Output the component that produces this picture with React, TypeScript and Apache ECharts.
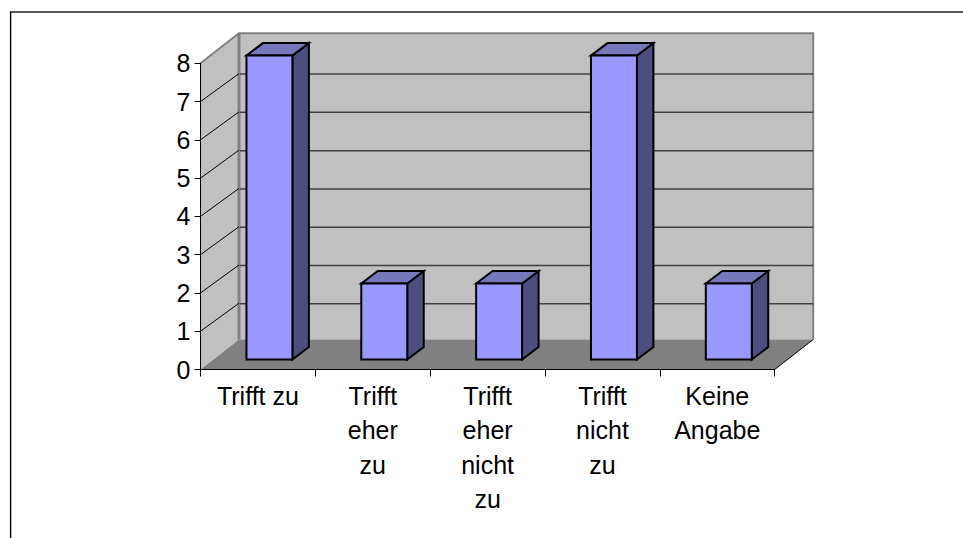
import React, { useEffect, useRef } from "react";
import * as echarts from "echarts";

const categories = ["Trifft zu", "Trifft\neher\nzu", "Trifft\neher\nnicht\nzu", "Trifft\nnicht\nzu", "Keine\nAngabe"];
const values = [8, 2, 2, 8, 2];
const yTicks = [0, 1, 2, 3, 4, 5, 6, 7, 8];

const DEPTH_X = 38.5;
const DEPTH_Y = 30;
const GRID_DEPTH_Y = 28;
const BAR_WIDTH_RATIO = 0.4;

function renderWalls(_params: any, api: any) {
  const band = api.size([1, 0])[0];
  const [c0, y0] = api.coord([0, 0]);
  const [c4] = api.coord([4, 0]);
  const x0 = c0 - band / 2;
  const x1 = c4 + band / 2;
  const [, y8] = api.coord([0, 8]);
  const bx0 = x0 + DEPTH_X;
  const bx1 = x1 + DEPTH_X;
  const by0 = y0 - DEPTH_Y;
  const by8 = y8 - DEPTH_Y;
  const children: any[] = [
    { type: "polygon", shape: { points: [[x0, y8], [bx0, by8], [bx0, by0], [x0, y0]] }, style: { fill: "#c0c0c0" } },
    { type: "rect", shape: { x: bx0, y: by8, width: bx1 - bx0, height: by0 - by8 }, style: { fill: "#c0c0c0" } },
    { type: "polygon", shape: { points: [[x0, y0], [bx0, by0], [bx1, by0], [x1, y0]] }, style: { fill: "#808080" } },
    { type: "polyline", shape: { points: [[x0, y8], [bx0, by8], [bx1, by8], [bx1, by0]] }, style: { fill: "none", stroke: "#808080", lineWidth: 2 } },
    { type: "line", shape: { x1: bx0, y1: by8, x2: bx0, y2: by0 }, style: { stroke: "#808080", lineWidth: 3 } },
    { type: "line", shape: { x1: x1, y1: y0, x2: bx1, y2: by0 }, style: { stroke: "#000", lineWidth: 1 } },
  ];
  yTicks.slice(1, -1).forEach((t) => {
    const [, y] = api.coord([0, t]);
    children.push({ type: "line", shape: { x1: x0, y1: y, x2: bx0, y2: y - GRID_DEPTH_Y }, style: { stroke: "#000", lineWidth: 1 } });
    children.push({ type: "line", shape: { x1: bx0 + 1, y1: y - GRID_DEPTH_Y + 0.5, x2: bx1, y2: y - GRID_DEPTH_Y + 0.5 }, style: { stroke: "#404040", lineWidth: 1.5 } });
  });
  return { type: "group", children };
}

function renderBar(_params: any, api: any) {
  const [cx, y0] = api.coord([api.value(0), 0]);
  const [, yv] = api.coord([api.value(0), api.value(1)]);
  const w = api.size([1, 0])[0] * BAR_WIDTH_RATIO;
  const l = cx + 11.5 - w / 2;
  const r = l + w;
  const b = y0 - 10;
  const t = b - (y0 - yv) * 0.9925;
  const dx = 16.5;
  const dy = 12.5;
  const stroke = { stroke: "#000", lineWidth: 2, lineJoin: "miter" };
  return {
    type: "group",
    children: [
      { type: "polygon", shape: { points: [[r, t], [r + dx, t - dy], [r + dx, b - dy], [r, b]] }, style: { fill: "#4d4d80", ...stroke } },
      { type: "polygon", shape: { points: [[l, t], [l + dx, t - dy], [r + dx, t - dy], [r, t]] }, style: { fill: "#7777bb", ...stroke } },
      { type: "rect", shape: { x: l, y: t, width: w, height: b - t }, style: { fill: "#9999ff", ...stroke } },
    ],
  };
}

export default function App() {
  const ref = useRef<HTMLDivElement>(null);
  useEffect(() => {
    const chart = echarts.init(ref.current!, null, { renderer: "svg" });
    chart.setOption({
      animation: false,
      backgroundColor: "#ffffff",
      textStyle: { fontFamily: "Liberation Sans" },
      grid: { left: 200.5, top: 63.3, width: 574.2, height: 306.2 },
      xAxis: {
        type: "category",
        data: categories,
        z: 5,
        axisLine: { lineStyle: { color: "#000", width: 1 } },
        axisTick: { show: true, alignWithLabel: false, length: 7, lineStyle: { color: "#000" } },
        axisLabel: { interval: 0, fontSize: 25, color: "#000", lineHeight: 34.5, margin: 9, verticalAlign: "top" },
      },
      yAxis: {
        type: "value",
        min: 0,
        max: 8,
        interval: 1,
        z: 5,
        splitLine: { show: false },
        axisLine: { show: true, lineStyle: { color: "#000", width: 1 } },
        axisTick: { show: true, length: 6, lineStyle: { color: "#000" } },
        axisLabel: { fontSize: 25, color: "#000", margin: 10, padding: [0, 0, 3, 0] },
      },
      graphic: [
        { type: "line", shape: { x1: 10.6, y1: 11.5, x2: 10.6, y2: 538 }, style: { stroke: "#000", lineWidth: 1.4 } },
        { type: "line", shape: { x1: 10, y1: 12, x2: 963, y2: 12 }, style: { stroke: "#222", lineWidth: 1.5 } },
      ],
      series: [
        { type: "custom", z: 1, renderItem: renderWalls, data: [[0, 0]], silent: true },
        {
          type: "custom",
          z: 2,
          renderItem: renderBar,
          data: values.map((v, i) => [i, v]),
          encode: { x: 0, y: 1 },
        },
      ],
    });
    return () => chart.dispose();
  }, []);
  return <div ref={ref} style={{ position: "fixed", left: 0, top: 0, width: 963, height: 538 }} />;
}
